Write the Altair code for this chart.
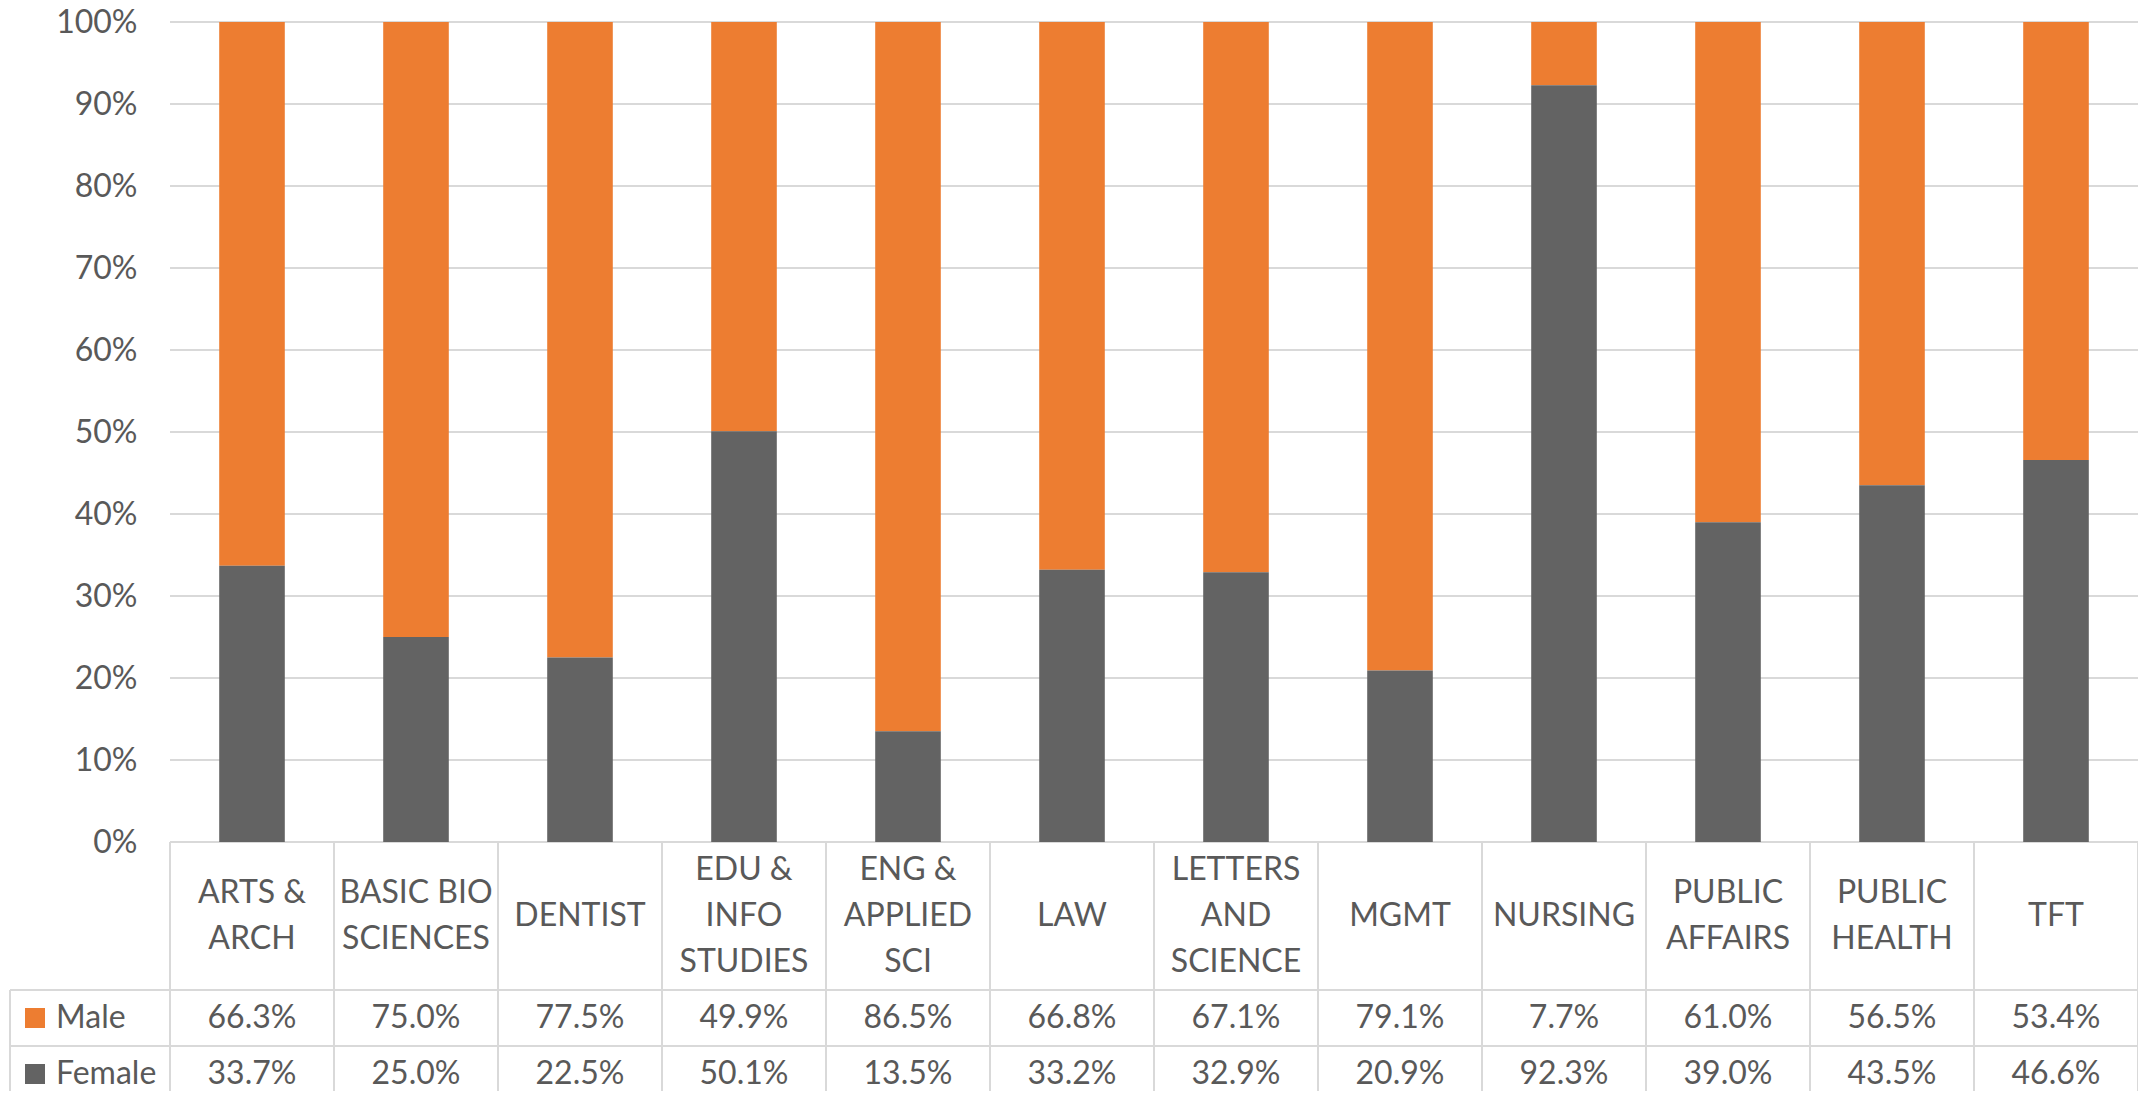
import altair as alt
import pandas as pd

# ---------------- data ----------------
categories = ["ARTS & ARCH", "BASIC BIO SCIENCES", "DENTIST", "EDU & INFO STUDIES",
              "ENG & APPLIED SCI", "LAW", "LETTERS AND SCIENCE", "MGMT", "NURSING",
              "PUBLIC AFFAIRS", "PUBLIC HEALTH", "TFT"]
header_labels = ["ARTS &\nARCH", "BASIC BIO\nSCIENCES", "DENTIST", "EDU &\nINFO\nSTUDIES",
                 "ENG &\nAPPLIED\nSCI", "LAW", "LETTERS\nAND\nSCIENCE", "MGMT", "NURSING",
                 "PUBLIC\nAFFAIRS", "PUBLIC\nHEALTH", "TFT"]
male = [66.3, 75.0, 77.5, 49.9, 86.5, 66.8, 67.1, 79.1, 7.7, 61.0, 56.5, 53.4]
female = [33.7, 25.0, 22.5, 50.1, 13.5, 33.2, 32.9, 20.9, 92.3, 39.0, 43.5, 46.6]
series = ["Male", "Female"]
series_colors = ["#ED7D31", "#636363"]
y_tick_values = [0, 0.1, 0.2, 0.3, 0.4, 0.5, 0.6, 0.7, 0.8, 0.9, 1.0]

# ---------------- layout / style ----------------
FONT = "Lato"
TEXT = "#595959"
GRID = "#D9D9D9"
FS = 32
LEG_W = 160                      # legend column of the data table
COL_W = 164                      # one category column
TOTAL_W = LEG_W + COL_W * len(categories)
TOP_H = 820
HEAD_H = 148
LINE_H = 46
ROW_H = {"Male": 56, "Female": 56}

# ---------------- tables ----------------
rows = []
for i, c in enumerate(categories):
    rows.append({"category": c, "series": "Male", "value": male[i], "order": 1,
                 "label": f"{male[i]:.1f}%"})
    rows.append({"category": c, "series": "Female", "value": female[i], "order": 0,
                 "label": f"{female[i]:.1f}%"})
df = pd.DataFrame(rows)

line_rows = []
for c, lab in zip(categories, header_labels):
    parts = lab.split("\n")
    for j, p in enumerate(parts):
        line_rows.append({"category": c, "text": p, "line_pos": j - (len(parts) - 1) / 2})
lines_df = pd.DataFrame(line_rows)

edges_df = pd.DataFrame({"category": categories})
last_edge_df = pd.DataFrame({"category": [categories[-1]]})
grid_df = pd.DataFrame({"tick": y_tick_values,
                        "start": [categories[0]] * len(y_tick_values),
                        "end": [categories[-1]] * len(y_tick_values)})

color_scale = alt.Scale(domain=series, range=series_colors)


def cat_scale(**kw):
    return alt.Scale(domain=categories, range=[LEG_W, TOTAL_W], **kw)


def cat_x(band_pos=None, field="category", **scale_kw):
    kw = dict(sort=categories, scale=cat_scale(**scale_kw), axis=None)
    if band_pos is not None:
        kw["bandPosition"] = band_pos
    return alt.X(f"{field}:N", **kw)


def leg_x():
    return alt.X("col:N",
                 scale=alt.Scale(domain=["legend"], range=[0, LEG_W],
                                 paddingInner=0, paddingOuter=0),
                 axis=None)


def column_rules():
    left = alt.Chart(edges_df).mark_rule(color=GRID, strokeWidth=2).encode(
        x=cat_x(0, paddingInner=0, paddingOuter=0))
    right = alt.Chart(last_edge_df).mark_rule(color=GRID, strokeWidth=2).encode(
        x=cat_x(1, paddingInner=0, paddingOuter=0))
    return [left, right]


y_axis = alt.Axis(values=y_tick_values, format=".0%", grid=False, domain=False,
                  ticks=False, labelFontSize=FS, labelColor=TEXT, labelFont=FONT,
                  labelPadding=33, offset=-LEG_W, title=None)
y_scale = alt.Scale(domain=[0, 1])

# ---------------- bar chart ----------------
gridlines = alt.Chart(grid_df).mark_rule(color=GRID, strokeWidth=2).encode(
    x=cat_x(0, field="start", paddingInner=0, paddingOuter=0),
    x2=alt.X2("end:N", bandPosition=1),
    y=alt.Y("tick:Q", scale=y_scale, axis=y_axis),
)
bars = alt.Chart(df).mark_bar().encode(
    x=cat_x(paddingInner=0.6, paddingOuter=0.3),
    y=alt.Y("value:Q", stack="normalize", scale=y_scale, axis=y_axis),
    color=alt.Color("series:N", scale=color_scale, legend=None),
    order=alt.Order("order:Q"),
)
top = alt.layer(gridlines, bars).resolve_scale(x="independent").properties(
    width=TOTAL_W, height=TOP_H)

# ---------------- table header ----------------
half = HEAD_H / LINE_H / 2
header_text = alt.Chart(lines_df).mark_text(
    font=FONT, fontSize=FS, color=TEXT, align="center", baseline="middle").encode(
    x=cat_x(paddingInner=0, paddingOuter=0),
    y=alt.Y("line_pos:Q", scale=alt.Scale(domain=[-half, half], reverse=True), axis=None),
    text="text:N")
header = alt.layer(*column_rules(), header_text).properties(width=TOTAL_W, height=HEAD_H)


# ---------------- table rows ----------------
def table_row(name):
    sub = df[df["series"] == name]
    leg = pd.DataFrame({"col": ["legend"], "series": [name]})
    y_row = alt.Y("series:N", scale=alt.Scale(domain=[name], paddingInner=0, paddingOuter=0),
                  axis=None)
    top_rule = alt.Chart(leg).mark_rule(color=GRID, strokeWidth=2).encode(
        y=alt.Y("series:N", bandPosition=0,
                scale=alt.Scale(domain=[name], paddingInner=0, paddingOuter=0), axis=None))
    left_rule = alt.Chart(leg).mark_rule(color=GRID, strokeWidth=2).encode(
        x=alt.X("col:N", bandPosition=0,
                scale=alt.Scale(domain=["legend"], range=[0, LEG_W],
                                paddingInner=0, paddingOuter=0), axis=None))
    vals = alt.Chart(sub).mark_text(
        font=FONT, fontSize=FS, color=TEXT, align="center", baseline="middle").encode(
        x=cat_x(paddingInner=0, paddingOuter=0), y=y_row, text="label:N")
    sq = alt.Chart(leg).mark_square(size=400, opacity=1, xOffset=-55).encode(
        x=leg_x(), y=y_row,
        color=alt.Color("series:N", scale=color_scale, legend=None))
    txt = alt.Chart(leg).mark_text(
        font=FONT, fontSize=FS, color=TEXT, align="left", baseline="middle", dx=-34).encode(
        x=leg_x(), y=y_row, text="series:N")
    return alt.layer(top_rule, left_rule, *column_rules(), vals, sq, txt).resolve_scale(
        x="independent", y="independent").properties(width=TOTAL_W, height=ROW_H[name])


chart = alt.vconcat(
    top, header, table_row("Male"), table_row("Female"), spacing=0, bounds="flush"
).resolve_scale(
    x="independent", y="independent"
).properties(
    padding={"left": 1, "top": -2, "right": -1, "bottom": -12}
).configure(font=FONT).configure_view(stroke="transparent", strokeWidth=0)

chart.save("out.html", embed_options={"renderer": "svg", "actions": False})
